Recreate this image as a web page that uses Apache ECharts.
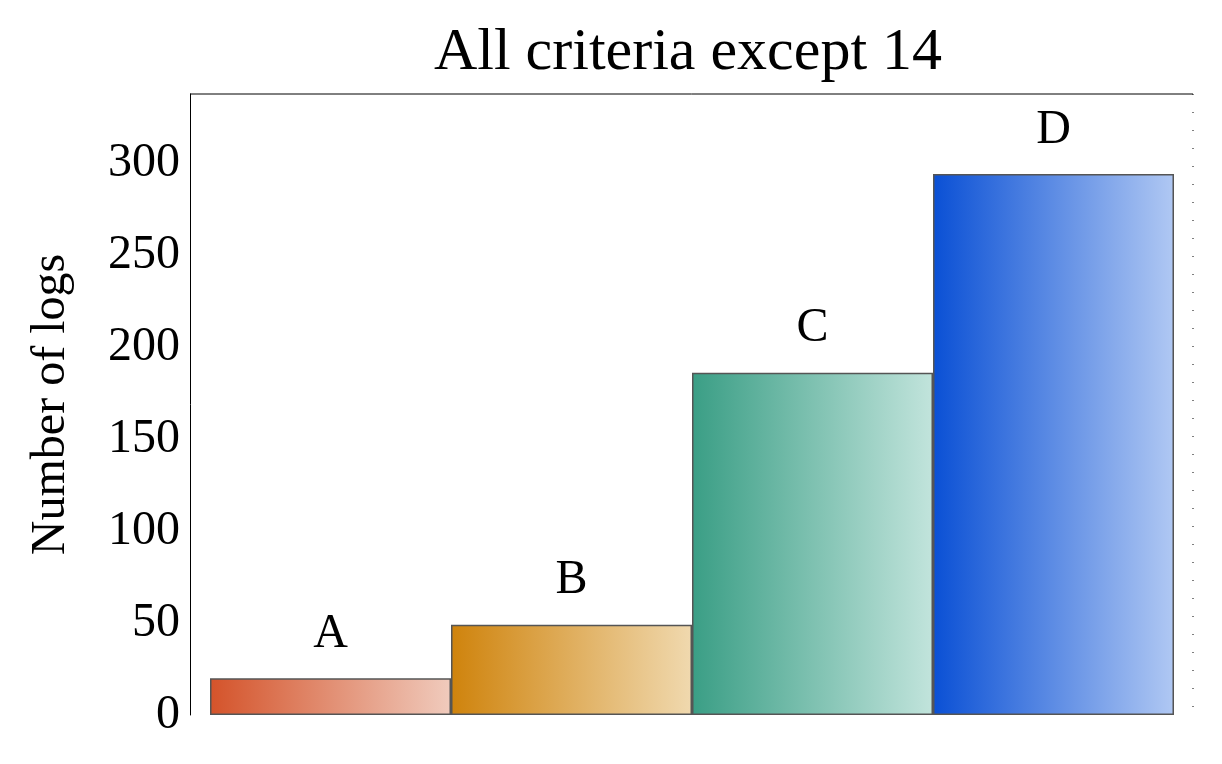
<!DOCTYPE html>
<html><head><meta charset="utf-8">
<script src="https://cdn.jsdelivr.net/npm/echarts@6/dist/echarts.min.js"></script>
<style>html,body{margin:0;background:#fff}#c{width:1222px;height:764px}</style>
</head><body><div id="c"></div>
<script>
const categories = ['A','B','C','D'];
const values = [20, 49, 186, 294];
const colorsStart = ['#d4532a','#cf830c','#3a9e85','#0a50d5'];
const colorsEnd = ['#f0cbbd','#f0d9af','#c2e4dc','#b0c8f3'];
const FF = '"Liberation Serif", "DejaVu Serif", serif';
const chart = echarts.init(document.getElementById('c'));
chart.setOption({
  animation:false,
  title:{text:'All criteria except 14',left:683,top:18,textAlign:'center',textStyle:{fontFamily:FF,fontSize:60,fontWeight:'normal',color:'#000'}},
  grid:{left:210,right:48,top:94,bottom:49},
  xAxis:{type:'category',data:categories,axisLine:{show:false},axisTick:{show:false},axisLabel:{show:false}},
  yAxis:{type:'value',min:0,max:337.5,interval:50,offset:20,
    name:'Number of logs',nameLocation:'middle',nameGap:115,nameTextStyle:{fontFamily:FF,fontSize:48,color:'#000'},
    axisLine:{show:true,lineStyle:{color:'#000',width:1}},axisTick:{show:false},splitLine:{show:false},
    axisLabel:{fontFamily:FF,fontSize:48,color:'#000',margin:10,showMaxLabel:false,verticalAlign:'middle'}},
  graphic:[
    {type:'line',shape:{x1:190,y1:94,x2:1193,y2:94},style:{stroke:'#000',lineWidth:1}},
    {type:'line',shape:{x1:1193,y1:94,x2:1193,y2:715},style:{stroke:'#000',lineWidth:1,lineDash:[1,17]}}
  ],
  series:[{type:'bar',barWidth:'100%',
    data:values.map((v,i)=>({value:v,itemStyle:{color:new echarts.graphic.LinearGradient(0,0,1,0,[{offset:0,color:colorsStart[i]},{offset:1,color:colorsEnd[i]}])}})),
    itemStyle:{borderColor:'#555',borderWidth:1.5},
    label:{show:true,position:'top',distance:20,formatter:p=>categories[p.dataIndex],fontFamily:FF,fontSize:48,color:'#000'}
  }]
});
</script></body></html>
